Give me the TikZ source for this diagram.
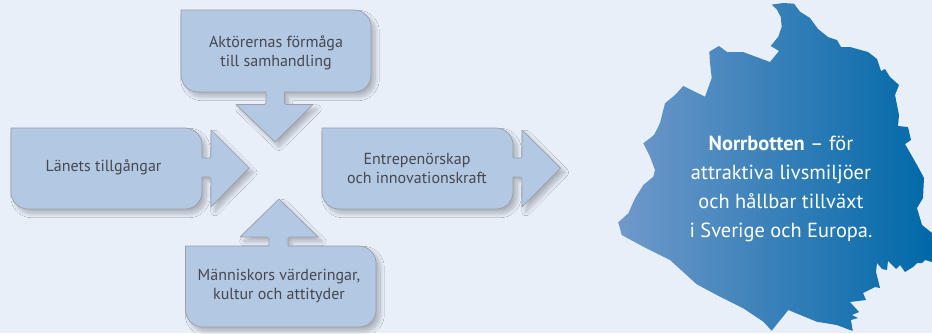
\documentclass[tikz,border=0pt]{standalone}
\usepackage{fontspec}
\setmainfont{PT Sans}
\usetikzlibrary{shadows.blur}
\definecolor{bgc}{HTML}{E8EFF9}
\definecolor{boxc}{HTML}{B3C8E3}
\definecolor{edgec}{HTML}{9A9FA8}
\definecolor{txtc}{HTML}{47474F}
\definecolor{mapl}{HTML}{7099CA}
\definecolor{mapm}{HTML}{2C80BB}
\definecolor{mapr}{HTML}{0068A8}
\tikzset{
  x=1pt,y=-1pt,
  callout/.style={draw=edgec,line width=0.7pt,fill=boxc,line join=round,
    blur shadow={shadow xshift=4pt,shadow yshift=-4.5pt,shadow blur steps=14,shadow blur radius=4.2pt,shadow opacity=26}},
  label/.style={text=txtc,font=\fontsize{16}{18.5}\selectfont,align=center,inner sep=0pt},
  maplabel/.style={text=white,font=\fontsize{20.4}{29.3}\selectfont,align=center,inner sep=0pt},
}
\begin{document}
\begin{tikzpicture}
\useasboundingbox[fill=bgc] (0,0) rectangle (932,333);
% top callout
\draw[callout] (181,10) -- (354,10) arc[start angle=90,end angle=0,radius=17pt] -- (371,75) arc[start angle=0,end angle=-90,radius=17pt] -- (284.5,92) -- (284.5,103) arc[start angle=180,end angle=270,radius=1.5pt] -- (313,104.5) -- (275,142) -- (236,104.5) -- (264.5,104.5) arc[start angle=-90,end angle=0,radius=1.5pt] -- (266,92) -- (198,92) arc[start angle=-90,end angle=-180,radius=17pt] -- cycle;
% left callout
\draw[callout] (11,128) -- (185,128) arc[start angle=90,end angle=0,radius=17pt] -- (202,158) -- (209.5,158) arc[start angle=-90,end angle=0,radius=1.5pt] -- (211,130) -- (249,168) -- (211,207) -- (211,178.5) arc[start angle=0,end angle=90,radius=1.5pt] -- (202,177) -- (202,192) arc[start angle=0,end angle=-90,radius=17pt] -- (28,209) arc[start angle=-90,end angle=-180,radius=17pt] -- cycle;
% right callout
\draw[callout] (322,128) -- (496,128) arc[start angle=90,end angle=0,radius=17pt] -- (513,158) -- (520.5,158) arc[start angle=-90,end angle=0,radius=1.5pt] -- (522,130) -- (560.5,168) -- (522,207) -- (522,178.5) arc[start angle=0,end angle=90,radius=1.5pt] -- (513,177) -- (513,192) arc[start angle=0,end angle=-90,radius=17pt] -- (339,209) arc[start angle=-90,end angle=-180,radius=17pt] -- cycle;
% bottom callout
\draw[callout] (185.5,246) -- (269,246) -- (269,238.5) arc[start angle=0,end angle=90,radius=1.5pt] -- (240,237) -- (279,199) -- (318,237) -- (289.5,237) arc[start angle=90,end angle=180,radius=1.5pt] -- (288,246) -- (359,246) arc[start angle=90,end angle=0,radius=17pt] -- (376,310) arc[start angle=0,end angle=-90,radius=17pt] -- (202.5,327) arc[start angle=-90,end angle=-180,radius=17pt] -- cycle;
\node[label] (top) at (276,53) {Aktörernas förmåga\\till samhandling};
\node[label] (left) at (103.5,167) {Länets tillgångar};
\node[label] (right) at (417,168.5) {Entrepenörskap\\och innovationskraft};
\node[label] (bottom) at (279,286) {Människors värderingar,\\kultur och attityder};
% map
\shade[left color=mapl,middle color=mapm,right color=mapr,shading angle=90]
 (771.7,4.7) -- (783,3) -- (794,3.7) -- (800,11.7) -- (810,18) -- (818,29) -- (828,37) -- (837,40) -- (841,47) -- (850,47) -- (868,52) -- (877,59) -- (881,71) -- (885,69) -- (890,77) -- (899,85) -- (895,95) -- (899,115) -- (898,126) -- (908,127) -- (911,140) -- (905,144) -- (917,165) -- (924,178) -- (923,198) -- (917,208) -- (922,225) -- (932,233) -- (932,262) -- (925,260) -- (922,263) -- (917,263) -- (913,267) -- (905,272) -- (900,265) -- (896,269) -- (888,261) -- (887,270) -- (882,269) -- (877,263) -- (876,272) -- (880,288) -- (875,287) -- (863,293) -- (866,300) -- (850,302) -- (859,312) -- (852,315) -- (858,318) -- (851,320) -- (852.7,331) -- (836.7,325) -- (816.7,321.7) -- (788.3,310) -- (771.7,330.7) -- (763.3,321.7) -- (743.3,308.3) -- (720,296.7) -- (696.7,284.3) -- (670,260) -- (643.3,246.7) -- (621.7,235) -- (618.3,222.3) -- (628.3,213.3) -- (635,198.3) -- (643.3,185) -- (653.3,176.7) -- (655,170) -- (650,156.7) -- (643.3,143.3) -- (654,135) -- (660,123) -- (665,103.3) -- (675,95) -- (683.3,86) -- (705,96.7) -- (711.7,78) -- (710,63) -- (709.3,51.7) -- (719,46) -- (727,52) -- (743,52) -- (770,62) -- (779,51) -- (770.7,46) -- (778.3,36.7) -- (781.7,26.7) -- (780.7,16.7) -- (776.7,9.3) -- cycle;
\node[maplabel] (maptext) at (781,189) {\textbf{Norrbotten} – för\\attraktiva livsmiljöer\\och hållbar tillväxt\\i Sverige och Europa.};
\end{tikzpicture}
\end{document}
